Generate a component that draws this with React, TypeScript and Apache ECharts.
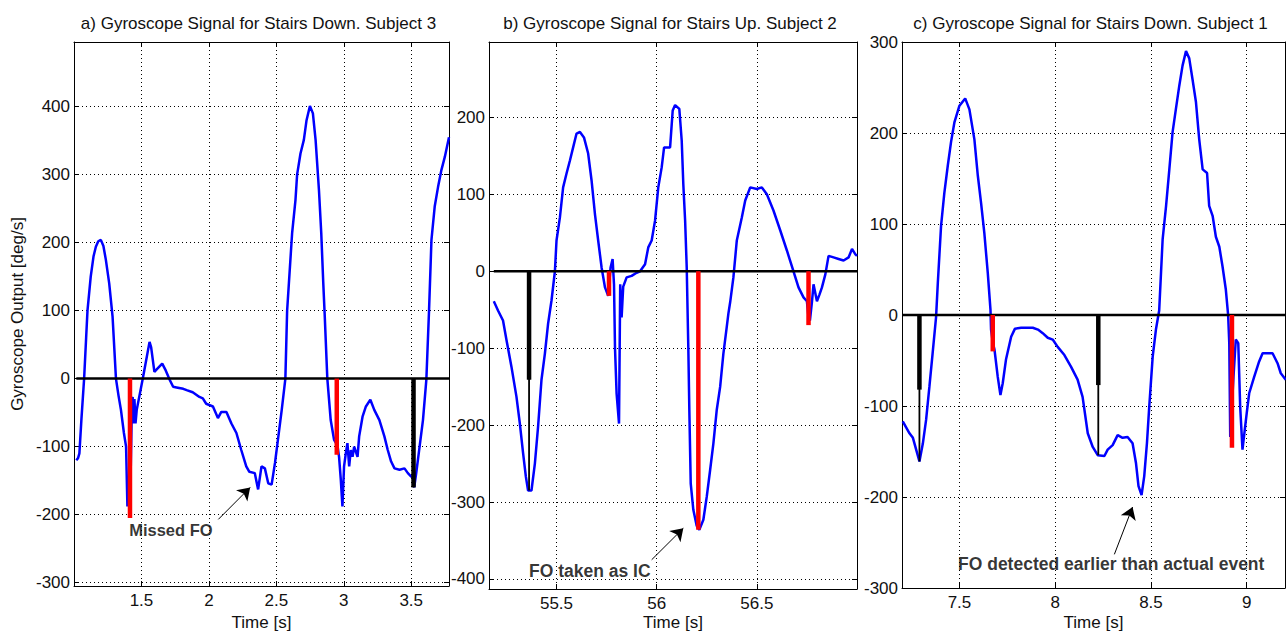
import React, { useEffect, useRef } from "react";
import * as echarts from "echarts";

// ---------- Panel a: Stairs Down, Subject 3 ----------
const aTime = [1.017,1.03,1.04,1.055,1.075,1.09,1.1,1.124,1.145,1.162,1.18,1.199,1.218,1.236,1.261,1.286,1.311,1.33,1.348,1.37,1.386,1.396,1.405,1.42,1.43,1.435,1.44,1.448,1.456,1.465,1.51,1.535,1.56,1.572,1.596,1.62,1.654,1.68,1.71,1.735,1.76,1.81,1.835,1.88,1.93,1.955,1.98,2.03,2.067,2.092,2.13,2.167,2.204,2.24,2.277,2.3,2.34,2.365,2.39,2.415,2.44,2.465,2.49,2.515,2.54,2.567,2.58,2.617,2.642,2.654,2.679,2.704,2.724,2.749,2.771,2.791,2.816,2.833,2.848,2.858,2.878,2.903,2.928,2.953,2.965,2.978,2.99,3.002,3.015,3.027,3.04,3.052,3.065,3.077,3.102,3.114,3.139,3.164,3.197,3.226,3.264,3.301,3.326,3.351,3.376,3.413,3.45,3.475,3.5,3.515,3.522,3.537,3.562,3.587,3.612,3.632,3.65,3.674,3.699,3.724,3.749,3.78];
const aGyro = [-120,-117,-110,-60,0,60,100,150,180,194,202,204,195,175,140,91,0,-25,-46,-80,-100,-188,-150,-140,-30,-27,-66,-30,-66,-46,0,27,54,46,10,15,22,12,-2,-12,-13,-15,-17,-20,-27,-29,-37,-41,-58,-49,-49,-66,-80,-105,-129,-137,-139,-163,-129,-132,-154,-156,-124,-85,-46,0,100,214,263,300,331,351,380,401,390,351,277,214,140,96,0,-61,-90,-98,-115,-149,-188,-129,-110,-95,-129,-105,-115,-100,-115,-85,-56,-41,-31,-46,-61,-85,-105,-122,-132,-134,-132,-139,-144,-146,-160,-139,-100,-61,-2,100,204,253,282,307,326,355];
const aFoTime = [1.415, 2.948];
const aFoDepth = [-205, -112];
const aIcTime = [3.517];
const aIcThick = [-160];
const aIcDepth = [-160];

// ---------- Panel b: Stairs Up, Subject 2 ----------
const bTime = [55.187,55.208,55.233,55.25,55.275,55.3,55.317,55.333,55.347,55.358,55.375,55.392,55.408,55.425,55.442,55.458,55.475,55.492,55.5,55.517,55.533,55.55,55.567,55.583,55.6,55.617,55.637,55.658,55.675,55.692,55.708,55.725,55.742,55.758,55.77,55.78,55.787,55.792,55.8,55.812,55.818,55.825,55.833,55.85,55.875,55.9,55.917,55.942,55.958,55.975,55.992,56.008,56.025,56.037,56.067,56.08,56.092,56.113,56.125,56.133,56.142,56.15,56.158,56.163,56.17,56.183,56.2,56.213,56.233,56.25,56.267,56.283,56.3,56.317,56.333,56.35,56.358,56.367,56.383,56.4,56.425,56.442,56.467,56.5,56.525,56.55,56.583,56.617,56.65,56.683,56.708,56.733,56.75,56.758,56.765,56.775,56.783,56.8,56.813,56.825,56.842,56.858,56.883,56.908,56.933,56.958,56.975,56.992,57.0];
const bGyro = [-39,-51,-64,-89,-124,-163,-198,-236,-267,-285,-285,-250,-202,-141,-107,-68,-38,0,40,70,109,127,144,161,179,181,174,153,118,74,40,5,-21,-32,5,16,-17,-100,-159,-198,-17,-60,-20,-8,-6,-2,0,9,31,40,66,109,135,161,161,209,216,211,170,113,66,5,-100,-180,-276,-310,-331,-336,-323,-293,-258,-224,-180,-150,-107,-72,-55,-40,-8,40,70,92,109,107,109,100,79,53,27,0,-21,-34,-39,-60,-64,-40,-17,-39,-30,-21,-4,20,18,16,14,18,29,22,20];
const bFoTime = [55.762, 56.208, 56.758];
const bFoDepth = [-32, -336, -70];
const bIcTime = [55.363];
const bIcThick = [-141];
const bIcDepth = [-285];

// ---------- Panel c: Stairs Down, Subject 1 ----------
const cTime = [7.204,7.239,7.257,7.274,7.291,7.309,7.326,7.343,7.36,7.378,7.387,7.404,7.421,7.439,7.456,7.474,7.5,7.53,7.552,7.578,7.596,7.613,7.63,7.648,7.662,7.665,7.674,7.683,7.7,7.714,7.726,7.743,7.77,7.79,7.822,7.883,7.91,7.935,7.961,7.987,8.013,8.048,8.083,8.117,8.143,8.17,8.196,8.222,8.257,8.274,8.3,8.326,8.352,8.378,8.404,8.422,8.435,8.451,8.465,8.479,8.491,8.509,8.526,8.543,8.561,8.579,8.596,8.613,8.63,8.648,8.665,8.683,8.7,8.717,8.735,8.752,8.77,8.793,8.804,8.822,8.839,8.857,8.874,8.891,8.903,8.909,8.914,8.931,8.943,8.956,8.966,8.978,8.99,9.0,9.013,9.039,9.065,9.083,9.135,9.161,9.178,9.204];
const cGyro = [-117,-130,-135,-148,-161,-141,-115,-79,-42,-2,35,98,134,164,190,212,230,238,226,193,153,123,90,46,6,-16,-30,-38,-68,-88,-75,-49,-24,-15,-14,-14,-16,-20,-25,-27,-35,-44,-57,-71,-90,-130,-145,-154,-155,-148,-143,-132,-135,-134,-141,-163,-188,-198,-177,-141,-101,-46,-16,5,83,120,160,201,226,252,274,290,282,259,234,193,160,156,120,109,86,75,53,28,0,-31,-134,-68,-27,-31,-101,-148,-126,-108,-86,-68,-51,-42,-42,-53,-64,-71];
const cFoTime = [7.674, 8.923];
const cFoDepth = [-40, -146];
const cIcTime = [7.291, 8.225];
const cIcThick = [-82, -77];
const cIcDepth = [-161, -154];

// ---------- Texts ----------
const titles = [
  "a) Gyroscope Signal for Stairs Down. Subject 3",
  "b) Gyroscope Signal for Stairs Up. Subject 2",
  "c) Gyroscope Signal for Stairs Down. Subject 1",
];
const notes = ["Missed FO", "FO taken as IC", "FO detected earlier than actual event"];
const noteAt = [[1.405, -222], [55.36, -390], [7.49, -274]];
const arrowFrom = [[2.07, -207], [55.975, -375], [8.309, -263]];
const arrowTo = [[2.306, -160], [56.133, -334], [8.404, -211]];
const yName = "Gyroscope Output [deg/s]";
const xName = "Time [s]";

const FONT = "'Liberation Sans', Arial, Helvetica, sans-serif";

const panels = [
  { time: aTime, gyro: aGyro, foT: aFoTime, foD: aFoDepth, icT: aIcTime, icK: aIcThick, icD: aIcDepth,
    xMin: 1.0, xMax: 3.78, yMin: -305, yMax: 495, xStep: 0.5, yStep: 100,
    left: 74, top: 42, width: 375, height: 544, showYMinMax: false, noteSize: 16.5 },
  { time: bTime, gyro: bGyro, foT: bFoTime, foD: bFoDepth, icT: bIcTime, icK: bIcThick, icD: bIcDepth,
    xMin: 55.163, xMax: 57.0, yMin: -413, yMax: 298, xStep: 0.5, yStep: 100,
    left: 489, top: 42, width: 368, height: 547, showYMinMax: false, noteSize: 17.5 },
  { time: cTime, gyro: cGyro, foT: cFoTime, foD: cFoDepth, icT: cIcTime, icK: cIcThick, icD: cIcDepth,
    xMin: 7.2, xMax: 9.2, yMin: -300, yMax: 300, xStep: 0.5, yStep: 100,
    left: 902, top: 42, width: 383, height: 546, showYMinMax: true, noteSize: 17.5 },
];

function buildOption() {
  const grid: any[] = [];
  const xAxis: any[] = [];
  const yAxis: any[] = [];
  const series: any[] = [];
  const title: any[] = [];
  const axisLine = { show: true, onZero: false, lineStyle: { color: "#000", width: 1 } };
  const tick = { show: true, inside: true, length: 5, lineStyle: { color: "#000", width: 1 } };
  const dotted = { show: true, lineStyle: { color: "#000", width: 1, type: [1, 3] } };

  panels.forEach((p, i) => {
    grid.push({ left: p.left, top: p.top, width: p.width, height: p.height, containLabel: false, outerBoundsMode: "none" });
    title.push({
      text: titles[i], left: p.left + p.width / 2 - 8, top: 10, textAlign: "center",
      textStyle: { fontFamily: FONT, fontSize: 17, fontWeight: "normal", color: "#111" },
    });
    const xBase = {
      type: "value", gridIndex: i, min: p.xMin, max: p.xMax,
      minInterval: p.xStep, maxInterval: p.xStep, axisLine, axisTick: tick,
    };
    xAxis.push({
      ...xBase, position: "bottom", splitLine: dotted,
      name: xName, nameLocation: "middle", nameMoveOverlap: false,
      nameGap: 613 - (p.top + p.height),
      nameTextStyle: { fontFamily: FONT, fontSize: 17, color: "#111", verticalAlign: "top", lineHeight: 19 },
      axisLabel: { show: true, showMinLabel: false, showMaxLabel: false, margin: 6, fontFamily: FONT, fontSize: 17, color: "#111" },
    });
    xAxis.push({ ...xBase, position: "top", splitLine: { show: false }, axisLabel: { show: false } });
    const yBase = {
      type: "value", gridIndex: i, min: p.yMin, max: p.yMax,
      minInterval: p.yStep, maxInterval: p.yStep, axisLine, axisTick: tick,
    };
    yAxis.push({
      ...yBase, position: "left", splitLine: dotted,
      name: i === 0 ? yName : "", nameLocation: "middle", nameGap: 48, nameMoveOverlap: false,
      nameTextStyle: { fontFamily: FONT, fontSize: 17, color: "#111" },
      axisLabel: { show: true, showMinLabel: p.showYMinMax, showMaxLabel: p.showYMinMax, margin: 4, fontFamily: FONT, fontSize: 17, color: "#111" },
    });
    yAxis.push({ ...yBase, position: "right", splitLine: { show: false }, axisLabel: { show: false } });

    const xi = i * 2;
    const yi = i * 2;
    const common = { type: "line", xAxisIndex: xi, yAxisIndex: yi, showSymbol: false, symbol: "none", silent: true };
    series.push({
      ...common, z: 2,
      data: p.time.map((t, k) => [t, p.gyro[k]]),
      lineStyle: { color: "#0000ff", width: 2.5 },
    });
    series.push({
      ...common, z: 3,
      data: [[p.time[0], 0], [p.time[p.time.length - 1], 0]],
      lineStyle: { color: "#000", width: 2.5 },
    });
    p.foT.forEach((t, k) => {
      series.push({ ...common, z: 4, data: [[t, 0], [t, p.foD[k]]], lineStyle: { color: "#ff0000", width: 4.5 } });
    });
    p.icT.forEach((t, k) => {
      series.push({ ...common, z: 4, data: [[t, 0], [t, p.icD[k]]], lineStyle: { color: "#000", width: 1.8 } });
      series.push({ ...common, z: 4, data: [[t, 0], [t, p.icK[k]]], lineStyle: { color: "#000", width: 4.5 } });
    });
    series.push({
      type: "scatter", xAxisIndex: xi, yAxisIndex: yi, silent: true, z: 5,
      symbolSize: 1, itemStyle: { color: "rgba(0,0,0,0)" },
      data: [noteAt[i]],
      label: {
        show: true, position: "right", distance: 0, formatter: notes[i],
        fontFamily: FONT, fontSize: p.noteSize, fontWeight: "bold", color: "#000",
      },
      markLine: {
        silent: true, symbol: ["none", "arrow"], symbolSize: 12,
        label: { show: false },
        lineStyle: { color: "#000", width: 1, type: "solid" },
        data: [[{ coord: arrowFrom[i] }, { coord: arrowTo[i] }]],
      },
    });
  });

  return {
    animation: false,
    backgroundColor: "#fff",
    textStyle: { fontFamily: FONT },
    title, grid, xAxis, yAxis, series,
  };
}

export default function App() {
  const ref = useRef<HTMLDivElement>(null);
  useEffect(() => {
    if (!ref.current) return;
    const chart = echarts.init(ref.current, undefined, { renderer: "svg" });
    chart.setOption(buildOption() as any);
    return () => chart.dispose();
  }, []);
  return (
    <div
      ref={ref}
      style={{ position: "absolute", left: 0, top: 0, width: 1286, height: 634, background: "#fff" }}
    />
  );
}
